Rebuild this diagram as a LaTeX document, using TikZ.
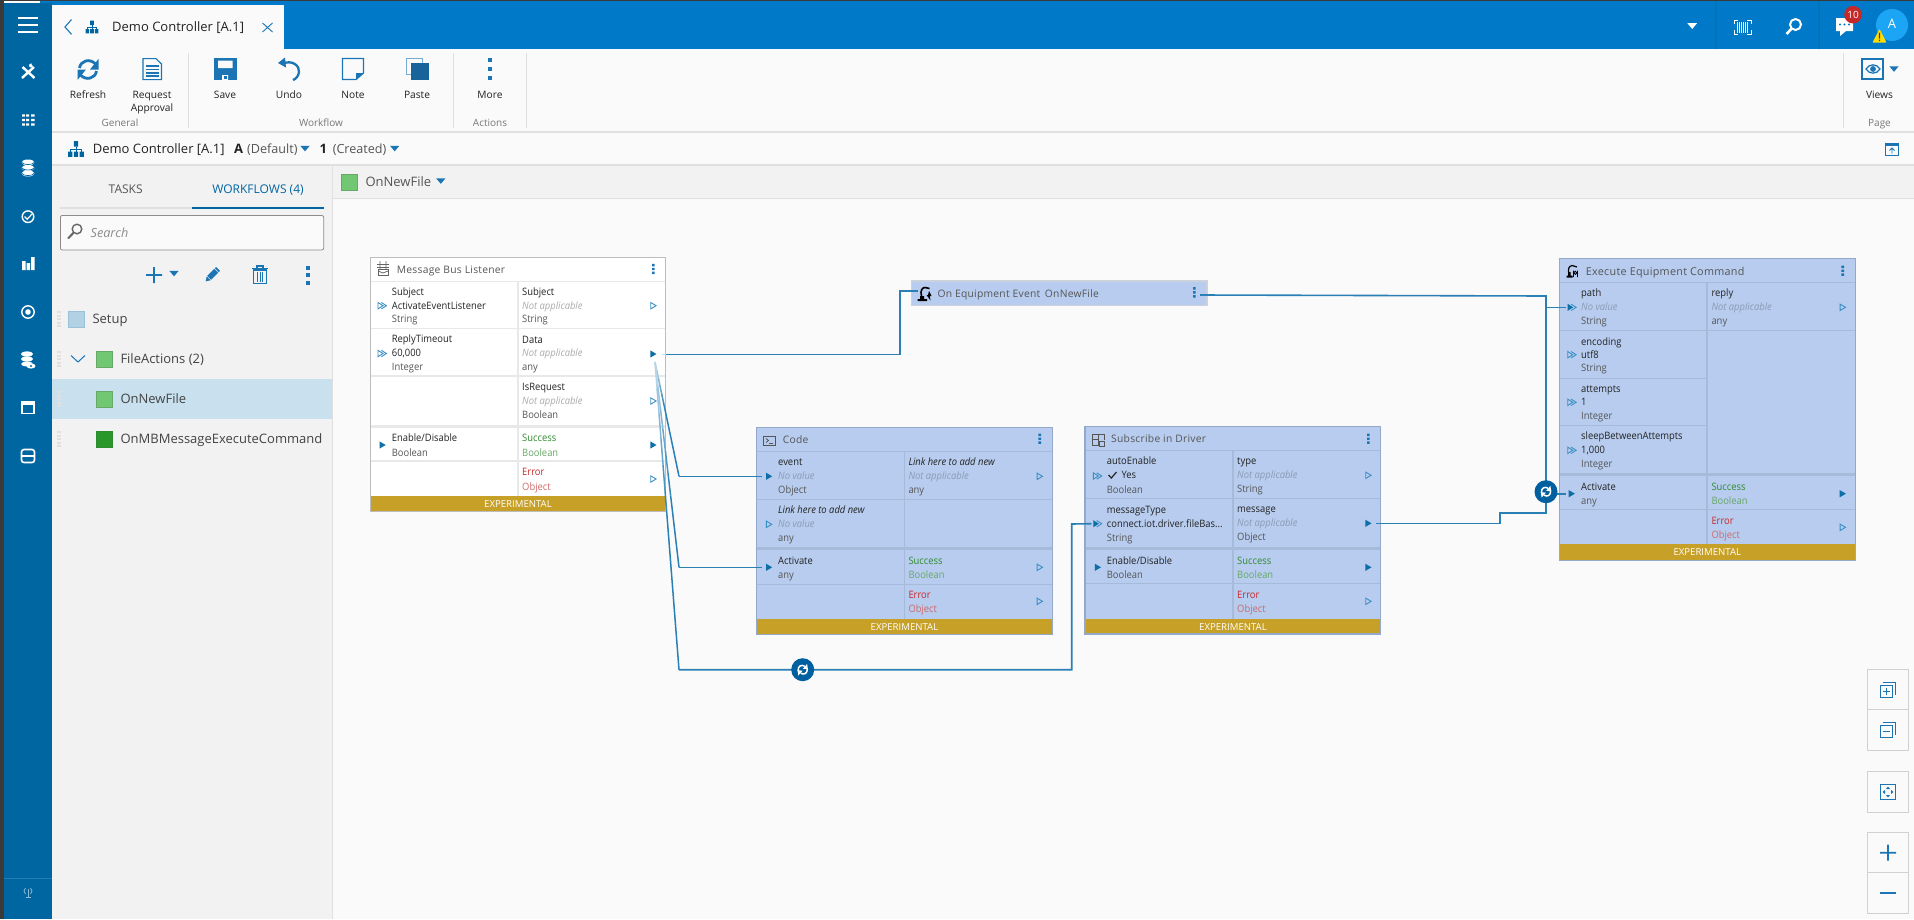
\documentclass[tikz,border=0pt]{standalone}
\usepackage{fontspec}
\setmainfont{Open Sans}
\newfontfamily\titlef[LetterSpace=2.5]{Open Sans}
\newfontfamily\cellf[FakeStretch=0.92]{Open Sans}
\usetikzlibrary{calc}
\definecolor{side}{HTML}{0066A1}
\definecolor{topb}{HTML}{0079C8}
\definecolor{darkedge}{HTML}{3A3A3A}
\definecolor{pagebg}{HTML}{FAFAFA}
\definecolor{panel}{HTML}{F2F2F2}
\definecolor{sepc}{HTML}{E0E0E0}
\definecolor{ico}{HTML}{1B75B5}
\definecolor{selrow}{HTML}{C9E0EF}
\definecolor{txtd}{HTML}{222222}
\definecolor{txtg}{HTML}{555555}
\definecolor{blu}{HTML}{B7CCEE}
\definecolor{bluedge}{HTML}{94A9C9}
\definecolor{bluline}{HTML}{A6BAD9}
\definecolor{whedge}{HTML}{BDBDBD}
\definecolor{whline}{HTML}{E8E8E8}
\definecolor{band}{HTML}{C7A027}
\definecolor{pinc}{HTML}{0E6EA8}
\definecolor{pino}{HTML}{3B8FC4}
\definecolor{conn}{HTML}{2A80B5}
\definecolor{fadelt}{HTML}{C4DCEC}
\definecolor{loopc}{HTML}{005F9E}
\definecolor{gok}{HTML}{2E8B2E}
\definecolor{gsoft}{HTML}{68A868}
\definecolor{rerr}{HTML}{C62828}
\definecolor{rsoft}{HTML}{CE6A6A}
\definecolor{nagray}{HTML}{ABABAB}
\definecolor{nablue}{HTML}{8A9BB5}
\definecolor{avatar}{HTML}{1CA5F5}
\definecolor{lgreen}{HTML}{72C772}
\newcounter{tn}
\tikzset{
 lbl/.style={anchor=base west,inner sep=0pt,text=txtd,font=\fontsize{10.2}{12}\selectfont\cellf},
 ui/.style={anchor=base,inner sep=0pt,text=txtd,yshift=-1pt,font=\fontsize{10.2}{12}\selectfont},
 uig/.style={anchor=base,inner sep=0pt,text=txtg!80,font=\fontsize{10}{12}\selectfont},
 big/.style={anchor=base west,inner sep=0pt,text=txtd,yshift=-1pt,font=\fontsize{13}{16}\selectfont},
 ttl/.style={anchor=base west,inner sep=0pt,text=txtg,font=\fontsize{10.3}{12}\selectfont\titlef},
 gr/.style={lbl,text=txtg},
 nw/.style={lbl,text=nagray,font=\fontsize{10.2}{12}\selectfont\cellf\itshape},
 nb/.style={lbl,text=nablue,font=\fontsize{10.2}{12}\selectfont\cellf\itshape},
 lk/.style={lbl,font=\fontsize{10.2}{12}\selectfont\cellf\itshape},
 ok/.style={lbl,text=gok},oks/.style={lbl,text=gsoft},
 er/.style={lbl,text=rerr},ers/.style={lbl,text=rsoft},
 bandt/.style={anchor=base,inner sep=0pt,text=white,font=\fontsize{9.6}{12}\selectfont},
 blubox/.style={draw=bluedge,fill=blu,line width=1.2pt,anchor=north west,inner sep=0pt,outer sep=0pt},
 whbox/.style={draw=whedge,fill=white,line width=1.2pt,anchor=north west,inner sep=0pt,outer sep=0pt},
 linkl/.style={draw=conn,line width=1.6pt,line join=miter},
}
% text helper: style, x, centre y, text
\newcommand{\lb}[4]{\stepcounter{tn}\node[#1] (t\arabic{tn}) at (#2,#3+3.8) {#4};}
% pins
\newcommand{\pf}[3]{\coordinate (#1) at (#2,#3);\fill[pinc] (#2-3,#3-3.6) -- (#2+3.2,#3) -- (#2-3,#3+3.6) -- cycle;}
\newcommand{\po}[3]{\coordinate (#1) at (#2,#3);\draw[pino,line width=.9pt,line join=miter] (#2-2.6,#3-3.2) -- (#2+2.8,#3) -- (#2-2.6,#3+3.2) -- cycle;}
\newcommand{\pd}[3]{\coordinate (#1) at (#2,#3);\draw[pino,line width=.9pt] (#2-4,#3-3.2) -- (#2+1,#3) -- (#2-4,#3+3.2) -- cycle (#2-.6,#3-3.2) -- (#2+4.4,#3) -- (#2-.6,#3+3.2);}
\newcommand{\pdf}[3]{\coordinate (#1) at (#2,#3);\fill[pinc] (#2-4,#3-3.5) -- (#2+1.5,#3) -- (#2-4,#3+3.5) -- cycle;\draw[pino,line width=.9pt] (#2-.6,#3-3.2) -- (#2+4.4,#3) -- (#2-.6,#3+3.2);}
\newcommand{\vdotsi}[2]{\fill[ico] (#1-1.3,#2-5.2) rectangle (#1+1.3,#2-2.7) (#1-1.3,#2-1.2) rectangle (#1+1.3,#2+1.2) (#1-1.3,#2+2.7) rectangle (#1+1.3,#2+5.2);}
\newcommand{\hier}[3]{\begin{scope}[shift={(#1,#2)}]\fill[side] (-#3*.28,-#3) rectangle (#3*.28,-#3*.3) (-#3,#3*.35) rectangle (-#3*.45,#3) (-#3*.28,#3*.35) rectangle (#3*.28,#3) (#3*.45,#3*.35) rectangle (#3,#3);\draw[side,line width=.8pt] (0,-#3*.3) -- (0,#3*.35) (-#3*.72,#3*.35) -- (-#3*.72,0) -- (#3*.72,0) -- (#3*.72,#3*.35);\end{scope}}
\newcommand{\caret}[3]{\fill[#3] (#1-4.6,#2-2.6) -- (#1+4.6,#2-2.6) -- (#1,#2+2.8) -- cycle;}
\newcommand{\grip}[2]{\foreach \g in {-7,-3.5,0,3.5,7}{\fill[sepc] (#1,#2+\g-1) rectangle (#1+4,#2+\g+1);}}
\newcommand{\loopmark}[3]{\node[circle,fill=loopc,draw=none,minimum size=23pt,inner sep=0pt] (#1) at (#2,#3) {};
 \draw[white,line width=1.5pt] (#2-4.6,#3+1.2) .. controls (#2-5,#3-4) and (#2-1,#3-5.5) .. (#2+2,#3-3.4);
 \fill[white] (#2+.2,#3-1) -- (#2+5.2,#3-.4) -- (#2+4.4,#3-5.8) -- cycle;
 \draw[white,line width=1.5pt] (#2+4.6,#3-1.2) .. controls (#2+5,#3+4) and (#2+1,#3+5.5) .. (#2-2,#3+3.4);
 \fill[white] (#2-.2,#3+1) -- (#2-5.2,#3+.4) -- (#2-4.4,#3+5.8) -- cycle;}
\newcommand{\fadeln}[3]{\foreach \i/\p in {0/8,1/25,2/42,3/60,4/78,5/92}{\draw[conn!\p!fadelt,line width=1.5pt] ($(#1)!{\i*#3/6}!(#2)$) -- ($(#1)!{(\i+1)*#3/6}!(#2)$);}\draw[conn,line width=1.5pt] ($(#1)!#3!(#2)$) -- (#2);}
\begin{document}
\begin{tikzpicture}[x=1pt,y=-1pt]
\useasboundingbox (0,0) rectangle (1914,919);
% ---------- page
\fill[pagebg] (0,0) rectangle (1914,919);
\fill[panel] (52,165) rectangle (332,919);
\fill[panel] (333,165) rectangle (1914,198);
\fill[sepc] (332,165) rectangle (333.2,919);
\fill[sepc] (52,131.4) rectangle (1914,132.6);
\fill[sepc] (52,164.4) rectangle (1914,165.6);
\fill[sepc] (333,198) rectangle (1914,199);
% ---------- top bar and sidebar
\fill[topb] (40,0) rectangle (1914,49);
\fill[side] (4,3) rectangle (52,919);
\fill[darkedge] (0,0) rectangle (4,919);
\fill[darkedge] (0,0) rectangle (1914,1);
\fill[pagebg] (52,5) rectangle (284,49);
\fill[pagebg] (52,49) rectangle (1914,131.4);
\fill[side!85!white] (4,877.6) rectangle (52,878.4);
% hamburger
\foreach \yy in {18,25,32}{\fill[white] (18,\yy-1) rectangle (38,\yy+1);}
% sidebar icons
\draw[white,line width=2.4pt] (22.5,67) -- (34.5,78) (34,67) -- (22,78);
\fill[white] (31,65.5) circle (2);\fill[side] (33.5,64.5) circle (1.8);
\foreach \yy in {115.5,120,124.5}{\fill[white] (22,\yy-1.2) rectangle (29,\yy+1.2) (31,\yy-1.2) rectangle (34.5,\yy+1.2);}
\fill[side] (24.8,113) rectangle (26.2,127);
\foreach \yy in {162.5,168,173.5}{\fill[white] (28,\yy) ellipse (6.5 and 3);\draw[side,line width=.7pt] (21.5,\yy-.5) .. controls (23,\yy+3) and (33,\yy+3) .. (34.5,\yy-.5);}
\draw[white,line width=1.4pt] (28,216.7) circle (5.8);\draw[white,line width=1.2pt] (24.5,216.5) -- (27.2,219.2) -- (32,214);
\fill[white] (22,261) rectangle (25.5,270) (26.5,263) rectangle (30,270) (31,257) rectangle (34.5,270);
\draw[white,line width=1.4pt] (28,312) circle (6.2);\fill[white] (28,312) circle (2.8);
\foreach \yy in {354,359}{\fill[white] (27,\yy) ellipse (6 and 2.6);}
\fill[white] (27,364) ellipse (6 and 2.4);\fill[white] (31,366) ellipse (4.5 and 2.6);\fill[side] (31,366) circle (1.1);
\draw[white,line width=1.4pt] (22,401.5) rectangle (34,413.5);\fill[white] (22,401) rectangle (34,405);
\draw[white,line width=1.6pt,rounded corners=2.5pt] (21.5,449.5) rectangle (34.5,462.5);\draw[white,line width=1.6pt] (21.5,456) -- (34.5,456);
\draw[white!55!side,line width=.8pt] (28,889) -- (28,897) (25.5,897) -- (30.5,897);
\draw[white!55!side,line width=.8pt] (25.5,888) .. controls (23.5,890) and (23.5,892) .. (25.5,894) (30.5,888) .. controls (32.5,890) and (32.5,892) .. (30.5,894);
% tab
\draw[ico,line width=1.1pt] (71.5,19.5) -- (65,27) -- (71.5,34.3);
\hier{92}{27}{6.4}
\lb{big}{112}{26.5}{Demo Controller [A.1]}
\draw[ico,line width=.9pt] (262.5,23) -- (272.5,32) (272.5,23) -- (262.5,32);
% top right
\fill[white] (1687.4,23.2) -- (1697,23.2) -- (1692.2,29) -- cycle;
\fill[side] (1715.6,1) rectangle (1716.4,49) (1818.6,1) rectangle (1819.4,49);
\draw[white,line width=.9pt] (1734,24) -- (1734,20) -- (1738,20) (1747,20) -- (1751,20) -- (1751,24) (1734,30) -- (1734,34) -- (1738,34) (1747,34) -- (1751,34) -- (1751,30);
\foreach \xx in {1737,1739,1741,1743,1745,1747}{\fill[white] (\xx,21.5) rectangle (\xx+1.2,32.5);}
\draw[white,line width=2pt] (1795.5,24.5) circle (5.5);\draw[white,line width=2.6pt] (1791.5,28.7) -- (1786.5,34);
\fill[white] (1836,18) rectangle (1853,31) (1840,31) -- (1846,31) -- (1840,36) -- cycle;
\foreach \xx in {1840,1844.5,1849}{\fill[topb] (\xx,24.5) circle (1.1);}
\fill[rerr] (1853,14.7) circle (8.8);
\lb{anchor=base,inner sep=0pt,text=white,font=\fontsize{10}{12}\selectfont}{1853}{14.7}{10}
\fill[avatar] (1892,25) circle (16);
\lb{anchor=base,inner sep=0pt,text=white,font=\fontsize{13}{15}\selectfont}{1892}{25}{A}
\fill[yellow!80!orange,rounded corners=.8pt] (1879.5,29) -- (1886.5,42.5) -- (1872.5,42.5) -- cycle;
\fill[black!60!orange] (1878.8,32.5) rectangle (1880.2,38.5) (1878.8,39.5) rectangle (1880.2,41);
% ribbon icons
\draw[ico,line width=2.8pt] (79.5,68) .. controls (80.5,60.5) and (90,58) .. (95.5,64);
\fill[ico] (98.5,59) -- (98.5,69.5) -- (90,69.5) -- cycle;
\draw[ico,line width=2.8pt] (96.5,71) .. controls (95.5,78.5) and (86,81) .. (80.5,75);
\fill[ico] (77.5,80) -- (77.5,69.5) -- (86,69.5) -- cycle;
\draw[ico,line width=1.1pt] (143,58.6) -- (156,58.6) -- (161.5,64) -- (161.5,79.6) -- (143,79.6) -- cycle;
\foreach \yy in {66,69.5,73,76}{\draw[ico,line width=1.1pt] (146,\yy) -- (158.5,\yy);}
\fill[ico] (213.5,58) rectangle (236.7,80);
\fill[pagebg] (218,60.5) rectangle (232.5,68) (222,75) rectangle (228,80);
\fill[ico] (224,76) rectangle (226.5,78.5);
\draw[ico,line width=2.3pt] (282,64) .. controls (292,59) and (300,66) .. (299,72) .. controls (298.5,76) and (296,79) .. (293,80);
\fill[ico] (278,63) -- (285,57.5) -- (286,67.5) -- cycle;
\draw[ico,line width=1.3pt] (342.5,58.5) -- (363.5,58.5) -- (363.5,73) -- (356,79.5) -- (342.5,79.5) -- cycle;
\fill[ico] (356,73) -- (363.5,73) -- (356,79.5) -- cycle;
\draw[ico!60!white,line width=1pt] (406.5,58.5) rectangle (422,74);
\fill[ico!85!black] (410.5,63) rectangle (428.5,80);
\foreach \yy in {60,69,78}{\fill[ico] (488,\yy-2) rectangle (492,\yy+2);}
\draw[ico,line width=2pt] (1862,59) rectangle (1883,79);
\draw[ico,line width=1.3pt] (1866,69) .. controls (1869,63.5) and (1877,63.5) .. (1880,69) .. controls (1877,74.5) and (1869,74.5) .. (1866,69) -- cycle;
\fill[ico] (1873,69) circle (2.9);
\caret{1894}{69}{ico}
% ribbon separators
\foreach \xx in {188.6,453.5,526.5,1843.5}{\fill[sepc] (\xx-.4,53) rectangle (\xx+.4,128);}
% ribbon text
\lb{ui}{88}{94}{Refresh}
\lb{ui}{152}{94}{Request}
\lb{ui}{152}{107}{Approval}
\lb{ui}{225}{94}{Save}
\lb{ui}{289}{94}{Undo}
\lb{ui}{353}{94}{Note}
\lb{ui}{417}{94}{Paste}
\lb{ui}{490}{94}{More}
\lb{ui}{1879.5}{94}{Views}
\lb{uig}{120}{122.7}{General}
\lb{uig}{321}{122.7}{Workflow}
\lb{uig}{490}{122.7}{Actions}
\lb{uig}{1879.5}{122.7}{Page}
% second bar
\hier{76}{149}{7.8}
\lb{big}{92.6}{148.5}{Demo Controller [A.1]}
\lb{lbl,yshift=-.5pt,font=\fontsize{13}{15}\selectfont\bfseries}{233.8}{149}{A}
\lb{big,text=txtg,font=\fontsize{12.6}{15}\selectfont}{247}{148.5}{(Default)}
\caret{305}{148.5}{ico}
\lb{lbl,yshift=-.5pt,font=\fontsize{13}{15}\selectfont\bfseries}{319.5}{149}{1}
\lb{big,text=txtg,font=\fontsize{12.6}{15}\selectfont}{332.6}{148.5}{(Created)}
\caret{394.7}{148.5}{ico}
\draw[ico,line width=1pt] (1885.5,143) rectangle (1898.5,155.5);\fill[ico] (1885.5,143) rectangle (1898.5,146);
\draw[ico,line width=.8pt] (1892,153.5) -- (1892,148) (1889.5,150.5) -- (1892,148) -- (1894.5,150.5);
% left panel
\lb{ui,text=txtg,font=\fontsize{12}{14}\selectfont}{125.7}{188.7}{TASKS}
\lb{ui,text=side,font=\fontsize{12}{14}\selectfont}{258}{188.7}{WORKFLOWS (4)}
\fill[sepc] (60,206.7) rectangle (192,208.7);
\fill[side] (192,206.7) rectangle (324,208.7);
\draw[black!45,line width=.8pt,rounded corners=2pt,fill=pagebg] (60.4,215.4) rectangle (323.7,250);
\draw[black!60,line width=1.4pt] (77,229) circle (4.8);\draw[black!60,line width=2pt] (73.5,232.8) -- (68,238.5);
\lb{big,text=black!45,font=\fontsize{12.6}{15}\selectfont\itshape}{90.5}{232.5}{Search}
\fill[ico] (146,274.2) rectangle (162,275.8) (153.2,267) rectangle (154.8,283);
\caret{174}{273.5}{ico}
\begin{scope}[shift={(212,275)},rotate=-45]
\fill[ico] (-2.8,-8.5) rectangle (2.8,-6.8) (-2.8,-6) rectangle (2.8,4);
\fill[ico] (-2.8,4.6) -- (2.8,4.6) -- (0,9) -- cycle;
\end{scope}
\draw[ico,line width=1.2pt] (253.5,270) rectangle (266.5,283.5);\draw[ico,line width=1.5pt] (252,268.5) -- (268,268.5) (257,268) -- (257,266) -- (263,266) -- (263,268);
\foreach \xx in {257.3,260,262.7}{\draw[ico,line width=1pt] (\xx,272) -- (\xx,281.5);}
\foreach \yy in {267.5,275,282.5}{\fill[ico] (305.8,\yy-2) rectangle (310.2,\yy+2);}
% list
\fill[selrow] (52,379) rectangle (332,419);
\foreach \yy in {319,359,399,439}{\grip{57}{\yy}}
\fill[side!30!white,draw=side!40!white] (68.5,311.5) rectangle (83.8,326.8);
\lb{big,text=txtd!85}{92.3}{319}{Setup}
\draw[ico,line width=1pt] (71,355.5) -- (78,362) -- (85,355.5);
\fill[lgreen,draw=gsoft] (96.5,351.5) rectangle (111.8,366.8);
\lb{big,text=txtd!85}{120.3}{359}{FileActions (2)}
\fill[lgreen,draw=gsoft] (96.5,391.5) rectangle (111.8,406.8);
\lb{big,text=txtd!85}{120.3}{399}{OnNewFile}
\fill[gok!90!green,draw=gok] (96.5,431.5) rectangle (111.8,446.8);
\lb{big,text=txtd!85}{120.3}{439}{OnMBMessageExecuteCommand}
% workflow selector
\fill[lgreen,draw=gsoft] (341,174.5) rectangle (356.8,189.8);
\lb{big,text=txtg}{365.3}{181.5}{OnNewFile}
\caret{440.8}{181}{ico}
% ---------- Message Bus Listener
\node[whbox,minimum width=295.4pt,minimum height=254.4pt] (mbl) at (370.3,257.3) {};
\foreach \yy in {281.3,328.3,375.7,461}{\fill[whline] (370.8,\yy-.8) rectangle (665.2,\yy+.8);}
\fill[whline] (370.8,424.5) rectangle (665.2,427.5);
\fill[whline] (516.7,281.3) rectangle (518.7,496);
\fill[band] (370.9,496) rectangle (665.1,511.1);
\lb{bandt}{518}{503.8}{EXPERIMENTAL}
\draw[txtd!70,line width=.8pt] (377,264) -- (389,264) (377,267) -- (389,267) (378,269) rectangle (388,275.5);\draw[txtd!70,line width=.8pt] (380,261) -- (380,269) (386,261) -- (386,269) (378,271) -- (383,273) -- (388,271);
\lb{ttl}{396.7}{269.3}{Message Bus Listener}
\vdotsi{653.3}{269}
\lb{lbl}{391.7}{291.3}{Subject}
\lb{lbl}{391.7}{305.3}{ActivateEventListener}
\lb{gr}{391.7}{318.3}{String}
\lb{lbl}{391.7}{338.3}{ReplyTimeout}
\lb{lbl}{391.7}{352.3}{60,000}
\lb{gr}{391.7}{366.3}{Integer}
\lb{lbl}{391.7}{437.3}{Enable/Disable}
\lb{gr}{391.7}{452.3}{Boolean}
\lb{lbl}{522}{291.3}{Subject}
\lb{nw}{522}{305.3}{Not applicable}
\lb{gr}{522}{318.3}{String}
\lb{lbl}{522}{339.3}{Data}
\lb{nw}{522}{352.3}{Not applicable}
\lb{gr}{522}{366.3}{any}
\lb{lbl}{522}{386.3}{IsRequest}
\lb{nw}{522}{400.3}{Not applicable}
\lb{gr}{522}{415}{Boolean}
\lb{ok}{522}{437.3}{Success}
\lb{oks}{522}{452.3}{Boolean}
\lb{er}{522}{471.3}{Error}
\lb{ers}{522}{486.3}{Object}
\pd{mblS}{382}{305.7}
\pd{mblR}{382}{353.5}
\pf{mblE}{382.5}{445}
\po{mblSo}{653.3}{305.7}
\pf{mblD}{653.3}{354}
\po{mblI}{653.3}{401}
\pf{mblOk}{653.3}{445}
\po{mblErr}{653.3}{479}
% ---------- On Equipment Event
\node[blubox,draw=blu!70!black!40!white,minimum width=295.7pt,minimum height=24.7pt] (oee) at (911.3,281) {};
\draw[black,line width=1.6pt] (921.5,296) .. controls (920,291) and (922,287.5) .. (925,287.5) -- (929.5,288.5);
\fill[black] (917.5,299) rectangle (927,301) (920,296) rectangle (924,299);
\fill[black] (929,291) -- (931.5,296) -- (929.8,296) -- (930.5,300.5) -- (926.5,295) -- (928,295) -- cycle;
\lb{ttl}{937.3}{293.3}{On Equipment Event}
\lb{ttl}{1044.7}{293.3}{OnNewFile}
\vdotsi{1194.3}{292.3}
% ---------- Code
\node[blubox,minimum width=295.6pt,minimum height=207pt] (code) at (756.7,427.3) {};
\foreach \yy in {451.3,499.3,584.3}{\fill[bluline] (757.3,\yy-.7) rectangle (1051.8,\yy+.7);}
\fill[bluline] (757.3,546.8) rectangle (1051.8,549.8);
\fill[bluline] (903.5,451.3) rectangle (905.3,619);
\fill[band] (757.3,619) rectangle (1051.7,633.7);
\lb{bandt}{904.5}{626.5}{EXPERIMENTAL}
\draw[txtg,line width=.9pt] (763.5,436) rectangle (775.5,445);\draw[txtg,line width=.8pt] (766,438.5) -- (768.5,440.5) -- (766,442.5) (769,443.5) -- (773,443.5);
\lb{ttl}{782.7}{440}{Code}
\vdotsi{1039.7}{438.7}
\lb{lbl}{778}{461.3}{event}
\lb{nb}{778}{475.3}{No value}
\lb{gr}{778}{489.3}{Object}
\lb{lk}{778}{509.3}{Link here to add new}
\lb{nb}{778}{523.3}{No value}
\lb{gr}{778}{537.3}{any}
\lb{lbl}{778}{560.3}{Activate}
\lb{gr}{778}{574.3}{any}
\lb{lk}{908.3}{461.3}{Link here to add new}
\lb{nb}{908.3}{475.3}{Not applicable}
\lb{gr}{908.3}{489.3}{any}
\lb{ok}{908.3}{560.3}{Success}
\lb{oks}{908.3}{574.3}{Boolean}
\lb{er}{908.3}{594.3}{Error}
\lb{ers}{908.3}{608.3}{Object}
\pf{codeEv}{769}{476.3}
\po{codeLk}{769}{524.3}
\pf{codeAc}{769}{567.3}
\po{codeLo}{1039.7}{476.3}
\po{codeOk}{1039.7}{567.3}
\po{codeEr}{1039.7}{601.3}
% ---------- Subscribe in Driver
\node[blubox,minimum width=295.7pt,minimum height=207.3pt] (sub) at (1085,426.7) {};
\foreach \yy in {450.7,498.7,583.3}{\fill[bluline] (1085.6,\yy-.7) rectangle (1380.1,\yy+.7);}
\fill[bluline] (1085.6,546.8) rectangle (1380.1,549.8);
\fill[bluline] (1232.1,450.7) rectangle (1233.9,619);
\fill[band] (1085.6,619) rectangle (1380.1,633.4);
\lb{bandt}{1233}{626.5}{EXPERIMENTAL}
\draw[txtg,line width=.9pt] (1092.5,434) rectangle (1104,445.5);\draw[txtg,line width=.8pt] (1092.5,439.5) -- (1098,439.5) (1098,434) -- (1098,445.5);\fill[blu] (1098.5,440) rectangle (1105,447);\draw[txtg,line width=.8pt] (1099,441) rectangle (1104.5,446.5);
\lb{ttl}{1111}{439}{Subscribe in Driver}
\vdotsi{1368.3}{438.7}
\lb{lbl}{1106.7}{460.3}{autoEnable}
\draw[txtd,line width=1.2pt] (1108.5,475) -- (1111.3,478) -- (1116.5,472);
\lb{lbl}{1121.3}{474.3}{Yes}
\lb{gr}{1106.7}{489.3}{Boolean}
\lb{lbl}{1106.7}{509.3}{messageType}
\lb{lbl}{1106.7}{523.3}{connect.iot.driver.fileBas...}
\lb{gr}{1106.7}{537.3}{String}
\lb{lbl}{1106.7}{560.3}{Enable/Disable}
\lb{gr}{1106.7}{574.3}{Boolean}
\lb{lbl}{1237}{460.3}{type}
\lb{nb}{1237}{474.3}{Not applicable}
\lb{gr}{1237}{488.3}{String}
\lb{lbl}{1237}{508.3}{message}
\lb{nb}{1237}{522.3}{Not applicable}
\lb{gr}{1237}{536.3}{Object}
\lb{ok}{1237}{560.3}{Success}
\lb{oks}{1237}{574.3}{Boolean}
\lb{er}{1237}{594.3}{Error}
\lb{ers}{1237}{608.3}{Object}
\pd{subAu}{1097.3}{476}
\pdf{subMt}{1097.3}{523.7}
\pf{subEn}{1097.8}{567.3}
\po{subTy}{1368.3}{475.3}
\pf{subMs}{1368.3}{523.3}
\pf{subOk}{1368.3}{567.3}
\po{subEr}{1368.3}{601.3}
% ---------- Execute Equipment Command
\node[blubox,minimum width=296pt,minimum height=301.3pt] (exe) at (1559.3,258.7) {};
\fill[bluline] (1559.9,281.6) rectangle (1854.8,283);
\foreach \yy in {330.3}{\fill[bluline] (1559.9,\yy-.7) rectangle (1854.8,\yy+.7);}
\foreach \yy in {378.3,425.3}{\fill[bluline] (1559.9,\yy-.7) rectangle (1706.4,\yy+.7);}
\fill[bluline] (1559.9,473) rectangle (1854.8,476);
\fill[bluline] (1559.9,508.6) rectangle (1854.8,510);
\fill[bluline] (1706.4,282) rectangle (1708.2,544);
\fill[band] (1559.9,544) rectangle (1854.8,559.5);
\lb{bandt}{1707.3}{551.7}{EXPERIMENTAL}
\draw[black,line width=1.2pt] (1569,274) .. controls (1567.5,269) and (1569,266) .. (1572,265.5) -- (1577,267);
\fill[black] (1566.5,275.5) rectangle (1572.5,277.5) (1568,272) rectangle (1570.5,275.5);
\draw[black,line width=.9pt] (1575.3,272.8) circle (1.6) (1573.5,270.5) -- (1573.5,277) (1577.5,270.5) -- (1577.5,277);
\lb{ttl,font=\fontsize{10.8}{12}\selectfont\titlef}{1585.7}{271.3}{Execute Equipment Command}
\vdotsi{1842.7}{270.7}
\lb{lbl}{1581}{292.3}{path}
\lb{nb}{1581}{306.3}{No value}
\lb{gr}{1581}{320.3}{String}
\lb{lbl}{1581}{341.3}{encoding}
\lb{lbl}{1581}{354.7}{utf8}
\lb{gr}{1581}{367.7}{String}
\lb{lbl}{1581}{388.3}{attempts}
\lb{lbl}{1581}{401.7}{1}
\lb{gr}{1581}{415.3}{Integer}
\lb{lbl}{1581}{435.3}{sleepBetweenAttempts}
\lb{lbl}{1581}{449.3}{1,000}
\lb{gr}{1581}{463.3}{Integer}
\lb{lbl}{1581}{486.3}{Activate}
\lb{gr}{1581}{500.3}{any}
\lb{lbl}{1711.3}{292.3}{reply}
\lb{nb}{1711.3}{306.3}{Not applicable}
\lb{gr}{1711.3}{320.3}{any}
\lb{ok}{1711.3}{486.3}{Success}
\lb{oks}{1711.3}{500.3}{Boolean}
\lb{er}{1711.3}{520.3}{Error}
\lb{ers}{1711.3}{534.3}{Object}
\pdf{exePa}{1571.7}{307.3}
\pd{exeEn}{1571.7}{354.7}
\pd{exeAt}{1571.7}{402.3}
\pd{exeSl}{1571.7}{450.3}
\pf{exeAc}{1571.7}{493.7}
\po{exeRe}{1842.7}{307.3}
\pf{exeOk}{1842.7}{493.7}
\po{exeEr}{1842.7}{527.3}
% ---------- connectors
\coordinate (fan) at (655,362);
\coordinate (bendE) at (679,476.3);
\coordinate (bendA) at (679,567.3);
\coordinate (bendL) at (679,669.7);
\coordinate (busL) at (1071.7,669.7);
\coordinate (bus) at (1546,296);
\coordinate (jog) at (1500,513);
\coordinate (oeeIn) at (918,291);
\coordinate (oeeOut) at (1200,295);
\coordinate (upX) at (900,354.3);
\fill[fadelt] (661.7,353.5) rectangle (665.5,355);
\draw[linkl] (665.5,354.3) -- (upX) -- (900,291) -- (oeeIn);
\draw[linkl] (oeeOut) -- (bus) -- (1546,307.3);
\draw[linkl] (1546,307.3) -- ($(exePa)+(-6,0)$);
\draw[linkl] (1546,307.3) -- (1546,493.7) -- ($(exeAc)+(-6,0)$);
\draw[linkl] ($(subMs)+(8,0)$) -- (1500,523.3) -- (jog) -- (1546,513) -- (1546,493.7);
\fadeln{fan}{bendE}{.42}
\fadeln{fan}{bendA}{.65}
\fadeln{fan}{bendL}{.5}
\draw[linkl] (bendE) -- ($(codeEv)+(-7,0)$);
\draw[linkl] (bendA) -- ($(codeAc)+(-7,0)$);
\draw[linkl] (bendL) -- (busL) -- (1071.7,524) -- ($(subMt)+(-6,0)$);
\loopmark{loopa}{802.7}{669.7}
\loopmark{loopb}{1546}{491.7}
% ---------- canvas buttons
\foreach \ya/\yb in {670/709.5,710/750,771.7/812,832.7/872.5,873/912.7}{
 \fill[black!18] (1867.2,\ya-.6) rectangle (1909,\yb+1);
 \fill[pagebg] (1868,\ya) rectangle (1908,\yb);
}
\draw[ico,line width=.9pt] (1880.5,685.5) rectangle (1892.5,697.5);\draw[ico,line width=.9pt] (1882.5,682.5) -- (1895.5,682.5) -- (1895.5,695);
\draw[ico,line width=.9pt] (1883,691.5) -- (1890,691.5) (1886.5,688) -- (1886.5,695);
\draw[ico,line width=.9pt] (1880.5,725.5) rectangle (1892.5,737.5);\draw[ico,line width=.9pt] (1882.5,722.5) -- (1895.5,722.5) -- (1895.5,735);
\draw[ico,line width=.9pt] (1883,731.5) -- (1890,731.5);
\draw[ico,line width=1pt] (1880.5,784.5) rectangle (1895.5,799.5);
\fill[ico] (1888,786.5) -- (1890,789) -- (1886,789) -- cycle (1888,797.5) -- (1890,795) -- (1886,795) -- cycle (1882.5,792) -- (1885,790) -- (1885,794) -- cycle (1893.5,792) -- (1891,790) -- (1891,794) -- cycle;
\fill[ico] (1880,851.8) rectangle (1896,853.6) (1887.1,844.5) rectangle (1888.9,860.5);
\fill[ico] (1880,891.8) rectangle (1896,893.6);
\end{tikzpicture}
\end{document}
